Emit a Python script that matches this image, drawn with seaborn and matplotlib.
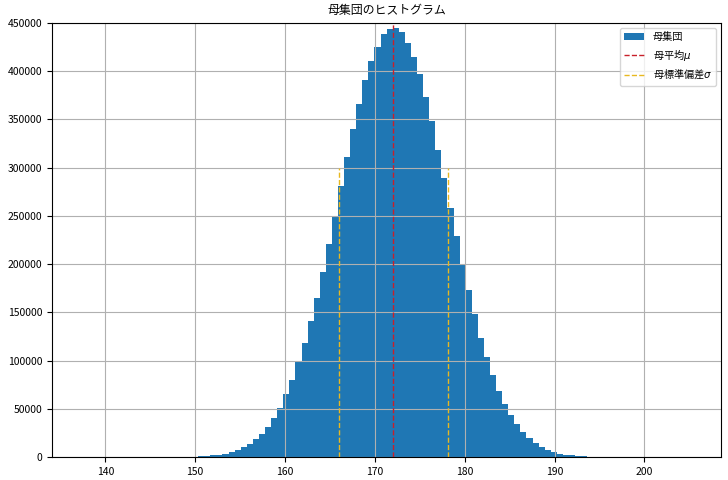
import numpy as np
import pandas as pd
import matplotlib
matplotlib.use("Agg")
import matplotlib.pyplot as plt
import seaborn as sns

# histogram of the population: 100 bins between the data min and max
bin_lo = 137.48
bin_hi = 205.15
counts = [
    1, 1, 1, 1, 2, 3, 5, 8, 12, 18,
    25, 40, 60, 90, 120, 170, 270, 420, 650, 950,
    1400, 2000, 2800, 3900, 5400, 7500, 10300, 13900, 18500, 24300,
    31800, 41000, 51000, 65200, 80500, 98600, 118000, 141000, 165000, 192000,
    221000, 250000, 281000, 311000, 340000, 366000, 391000, 410000, 425000, 438000,
    443000, 445000, 440000, 429500, 415000, 397000, 373000, 348000, 318000, 289000,
    258000, 229000, 200000, 173000, 148000, 124000, 104000, 84700, 69000, 55500,
    44200, 34000, 26500, 20300, 15300, 11100, 8000, 5600, 3900, 2800,
    2000, 1400, 950, 620, 420, 280, 180, 120, 75, 45,
    28, 17, 10, 6, 4, 2, 1, 1, 1, 1,
]

mu = 172.05
sigma = 6.08
mean_top = 450000
sigma_top = 300000

edges = np.linspace(bin_lo, bin_hi, len(counts) + 1)
df = pd.DataFrame({'height': (edges[:-1] + edges[1:]) / 2, 'count': counts})

plt.rcParams['font.family'] = ['Noto Sans CJK JP', 'DejaVu Sans']

fig, ax = plt.subplots(figsize=(7.28, 4.8), dpi=100)
fig.subplots_adjust(left=0.0718, right=0.9904, bottom=0.0473, top=0.9527)

sns.histplot(data=df, x='height', weights='count', bins=len(counts),
             binrange=(bin_lo, bin_hi), color='#1f77b4', alpha=1,
             linewidth=0, label='母集団', ax=ax)
mean_line = ax.vlines(mu, 0, mean_top, colors='#c8202a', linestyles='--',
                      linewidth=1, label=r'母平均$\mu$')
sd_lines = ax.vlines([mu - sigma, mu + sigma], 0, sigma_top, colors='#e8b820',
                     linestyles='--', linewidth=1, label=r'母標準偏差$\sigma$')

ax.set_ylim(0, 450000)
ax.set_xlabel('')
ax.set_ylabel('')
ax.grid(True)
ax.tick_params(labelsize=7.5)
ax.set_title('母集団のヒストグラム', fontsize=8.6)
ax.legend(handles=[ax.containers[0], mean_line, sd_lines],
          labels=['母集団', r'母平均$\mu$', r'母標準偏差$\sigma$'],
          loc='upper right', fontsize=7.3)

fig.savefig('out.png', dpi=100)
